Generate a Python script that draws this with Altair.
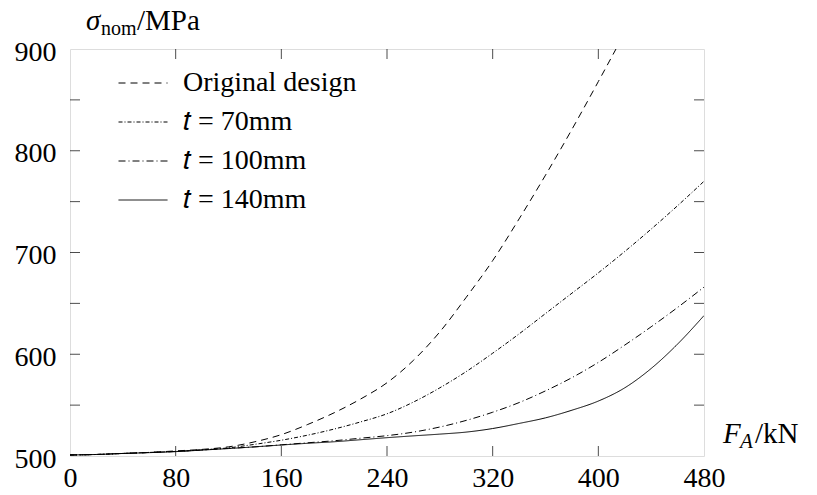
import altair as alt
import pandas as pd

# ---- data ----
F_A = [0, 20, 40, 60, 80, 100, 120, 140, 160, 180, 200, 220, 240,
       260, 280, 300, 320, 340, 360, 380, 400, 420, 440, 460, 480]
orig = [501, 501.5, 502.5, 503.5, 505, 506.5, 509, 514, 521, 531, 542.5, 556,
        572, 594, 622, 656, 692, 733, 776, 821, 868, 916]
t70 = [501, 501.5, 502.5, 503.5, 504.5, 506, 508, 511.5, 515.5, 520.5, 526.5,
       533.5, 541.5, 553, 567, 583, 601, 620, 640, 660, 680, 701, 723, 746, 770]
t100 = [501, 501.5, 502.5, 503.5, 504.5, 506, 507.5, 509, 511, 513, 515, 517.5,
        520, 523.5, 528.5, 535, 543, 552.5, 564, 577, 592, 609, 627, 646, 666]
t140 = [501, 501.5, 502.5, 503.3, 504.3, 505.8, 507.3, 509, 510.8, 512.5, 514,
        516, 518, 519.8, 521.5, 523.5, 527, 532, 537.5, 545, 554, 567, 586, 610, 638]

series_names = ["Original design", "𝑡 = 70mm", "𝑡 = 100mm", "𝑡 = 140mm"]
series_vals = [orig, t70, t100, t140]
dashes = [[7, 5], [4, 2, 1, 2], [7, 3, 1, 3], [1, 0]]

x_ticks = [0, 80, 160, 240, 320, 400, 480]
x_minor = [80, 160, 240, 320, 400]
y_ticks = [500, 600, 700, 800, 900]
y_minor = [550, 600, 650, 700, 750, 800, 850]

rows = []
for name, vals in zip(series_names, series_vals):
    for x, v in zip(F_A, vals):
        rows.append({"F": x, "S": v, "series": name})
df = pd.DataFrame(rows)

FONT = "Liberation Serif"

x_enc = alt.X("F:Q", scale=alt.Scale(domain=[0, 480], nice=False, zero=False),
              axis=alt.Axis(values=x_ticks, ticks=False, domain=False, grid=False,
                            title=None, labelFont=FONT, labelFontSize=28,
                            labelColor="black", labelPadding=8, labelFlush=False))
y_enc = alt.Y("S:Q", scale=alt.Scale(domain=[500, 900], nice=False, zero=False),
              axis=alt.Axis(values=y_ticks, ticks=False, domain=False, grid=False,
                            title=None, labelFont=FONT, labelFontSize=28,
                            labelColor="black", labelPadding=14, labelOffset=3))

lines = alt.Chart(df).mark_line(strokeWidth=1, color="black", clip=True,
                                interpolate="monotone").encode(
    x=x_enc, y=y_enc,
    strokeDash=alt.StrokeDash(
        "series:N",
        scale=alt.Scale(domain=series_names, range=dashes),
        sort=series_names,
        legend=alt.Legend(
            title=None, orient="none", legendX=48, legendY=9,
            symbolType="stroke", symbolSize=2401, symbolStrokeWidth=1,
            symbolStrokeColor="black", labelFont=FONT, labelFontSize=28,
            labelColor="black", labelOffset=15, rowPadding=-9, labelLimit=0,
        ),
    ),
)

xt_df = pd.DataFrame({"F": x_minor})
yt_df = pd.DataFrame({"S": y_minor})
tick_x_bottom = alt.Chart(xt_df).mark_tick(orient="vertical", size=20, thickness=1,
                                           color="black", clip=True).encode(x=x_enc, y=alt.datum(500))
tick_x_top = alt.Chart(xt_df).mark_tick(orient="vertical", size=20, thickness=1,
                                        color="black", clip=True).encode(x=x_enc, y=alt.datum(900))
tick_y_left = alt.Chart(yt_df).mark_tick(orient="horizontal", size=20, thickness=1,
                                         color="black", clip=True).encode(y=y_enc, x=alt.datum(0))
tick_y_right = alt.Chart(yt_df).mark_tick(orient="horizontal", size=20, thickness=1,
                                          color="black", clip=True).encode(y=y_enc, x=alt.datum(480))

def label(txt, xd, yd, dx, dy, size, italic=False):
    return alt.Chart(pd.DataFrame({"t": [txt]})).mark_text(
        text=txt, align="left", baseline="alphabetic", dx=dx, dy=dy,
        font=FONT, fontSize=size, fontStyle="italic" if italic else "normal",
        color="black",
    ).encode(x=alt.datum(xd), y=alt.datum(yd))

y_title = [
    label("σ", 0, 900, 16, -19, 29, True),
    label("nom", 0, 900, 31, -14, 20),
    label("/MPa", 0, 900, 67, -19, 29),
]
x_title = [
    label("F", 480, 500, 19, -13, 29, True),
    label("A", 480, 500, 36, -8, 21, True),
    label("/kN", 480, 500, 51, -13, 29),
]

chart = alt.layer(lines, tick_x_bottom, tick_x_top, tick_y_left, tick_y_right,
                  *y_title, *x_title).properties(
    width=634, height=407,
    autosize=alt.AutoSizeParams(type="none"),
    padding={"left": 70, "top": 49, "right": 113, "bottom": 39},
).configure_view(stroke="black", strokeWidth=1.5).configure(background="white")

chart.save("out.html", embed_options={"renderer": "svg", "actions": False})
